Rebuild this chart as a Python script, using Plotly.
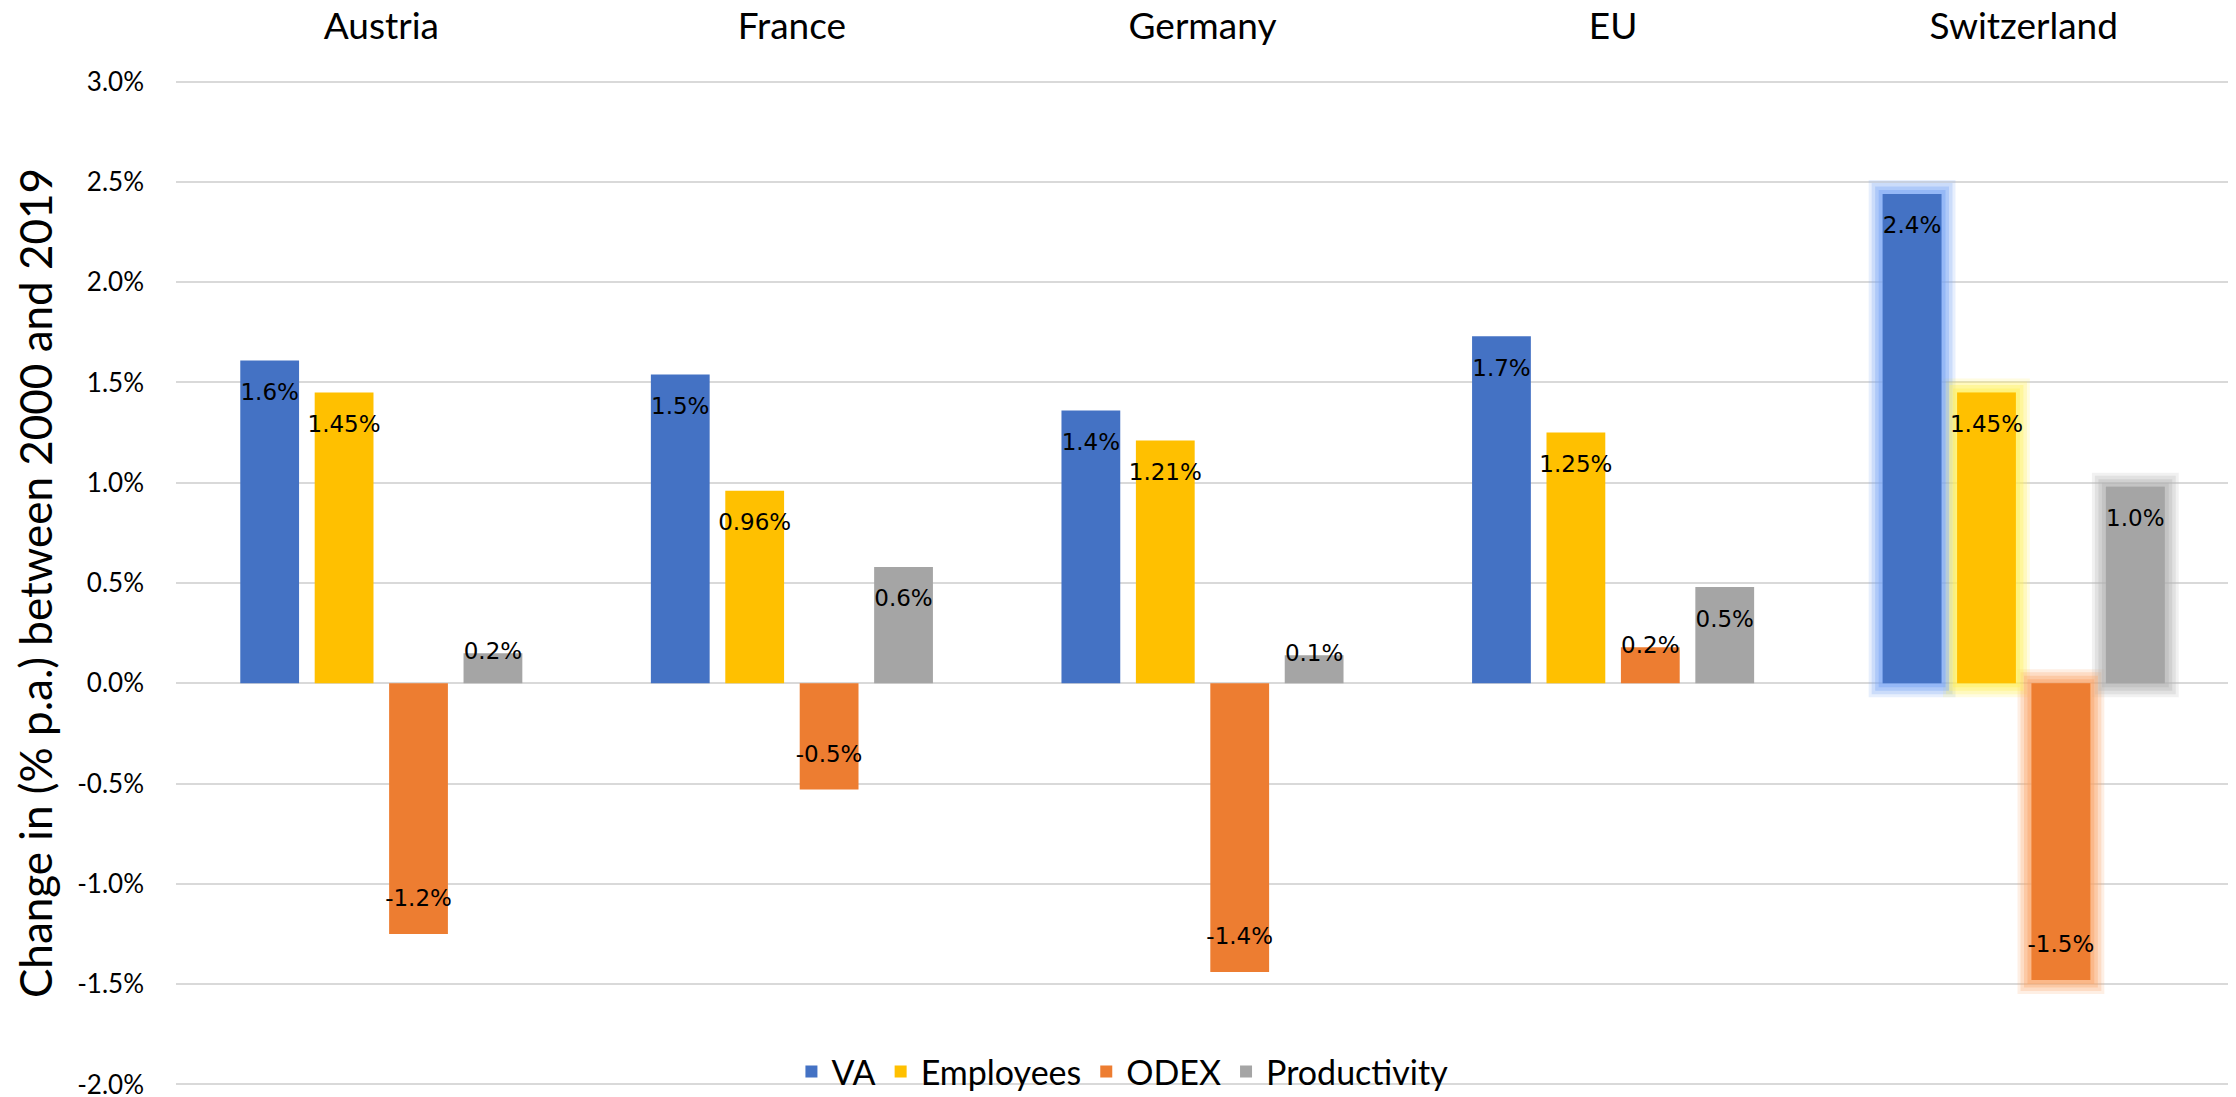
import plotly.graph_objects as go

countries = ["Austria", "France", "Germany", "EU", "Switzerland"]
series_names = ["VA", "Employees", "ODEX", "Productivity"]

va = [1.61, 1.54, 1.36, 1.73, 2.44]
employees = [1.45, 0.96, 1.21, 1.25, 1.45]
odex = [-1.25, -0.53, -1.44, 0.18, -1.48]
productivity = [0.15, 0.58, 0.14, 0.48, 0.98]

va_labels = ["1.6%", "1.5%", "1.4%", "1.7%", "2.4%"]
employees_labels = ["1.45%", "0.96%", "1.21%", "1.25%", "1.45%"]
odex_labels = ["-1.2%", "-0.5%", "-1.4%", "0.2%", "-1.5%"]
productivity_labels = ["0.2%", "0.6%", "0.1%", "0.5%", "1.0%"]

y_tickvals = [-2.0, -1.5, -1.0, -0.5, 0.0, 0.5, 1.0, 1.5, 2.0, 2.5, 3.0]
y_ticktext = ["-2.0%", "-1.5%", "-1.0%", "-0.5%", "0.0%", "0.5%", "1.0%", "1.5%", "2.0%", "2.5%", "3.0%"]

y_title = "Change in (% p.a.) between 2000 and 2019"
highlight = "Switzerland"

colors = ["#4472C4", "#FFC000", "#ED7D31", "#A5A5A5"]
glow_rgb = [(120, 165, 245), (255, 240, 90), (250, 165, 105), (180, 180, 180)]
glow_layers = [(28, 0.18), (22, 0.25), (15, 0.35), (8, 0.45)]

values = [va, employees, odex, productivity]
labels = [va_labels, employees_labels, odex_labels, productivity_labels]

BARGAP = 0.275
fig = go.Figure()

hi = countries.index(highlight)

# soft glow layers behind the highlighted group
for width, alpha in glow_layers:
    for name, vals, rgb in zip(series_names, values, glow_rgb):
        gc = "rgba(%d,%d,%d,%.2f)" % (rgb[0], rgb[1], rgb[2], alpha)
        fig.add_trace(go.Bar(
            x=[countries[hi]], y=[vals[hi]], offsetgroup=name,
            marker=dict(color=gc, line=dict(color=gc, width=width)),
            showlegend=False, hoverinfo="skip"))

# main bars
for name, vals, col in zip(series_names, values, colors):
    fig.add_trace(go.Bar(
        x=countries, y=vals, name=name, offsetgroup=name,
        marker=dict(color=col, line=dict(width=0)),
        hoverinfo="x+y"))

# data labels
for name, vals, labs in zip(series_names, values, labels):
    pos = []
    for v in vals:
        if v >= 0.3:
            pos.append("bottom center")
        elif v <= -0.3:
            pos.append("top center")
        else:
            pos.append("middle center")
    fig.add_trace(go.Scatter(
        x=countries, y=vals, offsetgroup=name, mode="markers+text",
        text=labs, textposition=pos,
        textfont=dict(family="DejaVu Sans", size=23, color="black"),
        marker=dict(size=34, color="rgba(0,0,0,0)"),
        showlegend=False, hoverinfo="skip", cliponaxis=False))

fig.update_layout(
    width=2228, height=1089,
    margin=dict(l=168, r=7, t=72, b=11, autoexpand=False),
    barmode="group", bargap=BARGAP, bargroupgap=0.21,
    scattermode="group", scattergap=BARGAP,
    plot_bgcolor="white", paper_bgcolor="white",
    font=dict(family="Lato", color="black"),
    xaxis=dict(side="top", tickfont=dict(size=37, color="black"),
               categoryorder="array", categoryarray=countries,
               showgrid=False, showline=False, ticks="", zeroline=False,
               ticklabelstandoff=33, automargin=False, ticklabeloverflow="allow"),
    yaxis=dict(range=[-2.008, 3.008], tickvals=y_tickvals, ticktext=y_ticktext,
               tickfont=dict(size=26, color="black"),
               gridcolor="#d9d9d9", gridwidth=2, zeroline=False, showline=False,
               ticklabelstandoff=31, automargin=False, ticklabeloverflow="allow",
               title=dict(text=y_title, font=dict(size=44, color="black"), standoff=10)),
    legend=dict(orientation="h", xref="paper", yref="paper",
                x=0.461, xanchor="center", y=0.014, yanchor="middle",
                font=dict(size=34, color="black"), bgcolor="rgba(0,0,0,0)",
                traceorder="normal"),
    showlegend=True,
)

fig.write_html("out.html")
